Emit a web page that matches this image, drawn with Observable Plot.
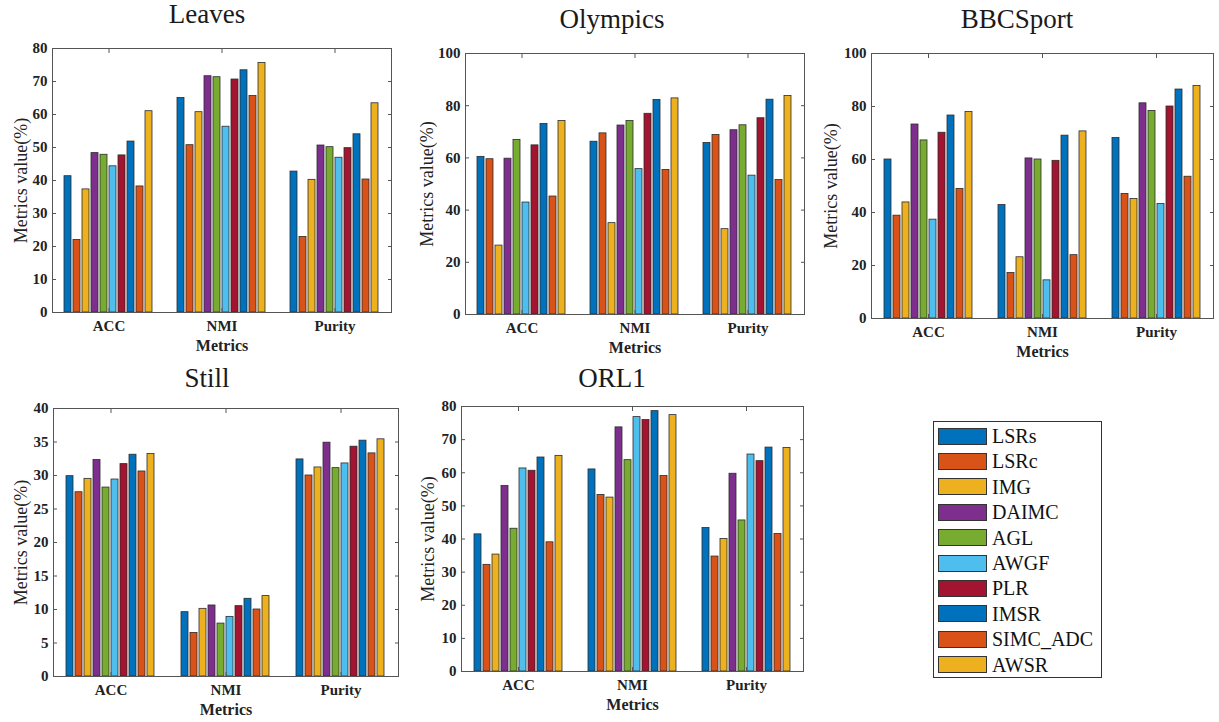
<!DOCTYPE html>
<html>
<head>
<meta charset="utf-8">
<script src="https://cdn.jsdelivr.net/npm/d3@7"></script>
<script src="https://cdn.jsdelivr.net/npm/@observablehq/plot@0.6"></script>
<style>
  body { margin: 0; background: #fff; }
  #wrap { position: relative; width: 1219px; height: 722px; overflow: hidden; font-family: "Liberation Serif", serif; }
  .title { position: absolute; font-family: "Liberation Serif", serif; font-weight: normal; font-size: 27px; color: #1a1a1a; white-space: nowrap; transform: translate(-50%, -50%); line-height: 1; }
  .panel { position: absolute; }
  .panel svg, .panel svg text { font-family: "Liberation Serif", serif !important; }
  .panel svg text { fill: #222; }
  .panel g[aria-label="y-axis tick label"] text, .panel g[aria-label="fx-axis tick label"] text { font-weight: bold; }
  .panel g[aria-label="y-axis label"] text { font-size: 18px; font-weight: normal; }
  .panel g[aria-label="fx-axis label"] text { font-size: 16px; font-weight: bold; }
  #legend { position: absolute; left: 933px; top: 421px; width: 169px; height: 257px; border: 1px solid #333; box-sizing: border-box; background: #fff; }
  .lrow { position: absolute; left: 4px; height: 18px; display: flex; align-items: center; }
  .sw { width: 49px; height: 17px; border: 1px solid #333; box-sizing: border-box; margin-right: 5px; }
  .lt { font-family: "Liberation Serif", serif; font-size: 20px; color: #111; line-height: 1; }
</style>
</head>
<body>
<div id="wrap"></div>
<script>
const methods = ["LSRs", "LSRc", "IMG", "DAIMC", "AGL", "AWGF", "PLR", "IMSR", "SIMC_ADC", "AWSR"];
const colors = ["#0072BD", "#D95319", "#EDB120", "#7E2F8E", "#77AC30", "#4DBEEE", "#A2142F", "#0072BD", "#D95319", "#EDB120"];
const metrics = ["ACC", "NMI", "Purity"];

const leavesACC = [41.3, 22.0, 37.3, 48.3, 47.8, 44.3, 47.6, 51.8, 38.2, 61.0];
const leavesNMI = [65.0, 50.7, 60.7, 71.6, 71.3, 56.3, 70.6, 73.4, 65.6, 75.6];
const leavesPurity = [42.7, 22.9, 40.2, 50.6, 50.1, 46.9, 49.8, 54.0, 40.3, 63.4];

const olympicsACC = [60.4, 59.5, 26.4, 59.7, 66.9, 42.9, 64.8, 73.0, 45.2, 74.1];
const olympicsNMI = [66.2, 69.4, 35.0, 72.4, 74.1, 55.7, 76.9, 82.2, 55.4, 82.8];
const olympicsPurity = [65.7, 68.8, 32.7, 70.6, 72.5, 53.2, 75.2, 82.3, 51.5, 83.7];

const bbcACC = [60.0, 38.8, 43.8, 73.2, 67.2, 37.3, 70.1, 76.6, 48.9, 77.9];
const bbcNMI = [42.8, 17.2, 23.1, 60.4, 60.0, 14.4, 59.5, 69.0, 23.9, 70.6];
const bbcPurity = [68.1, 47.0, 45.1, 81.2, 78.3, 43.2, 80.0, 86.4, 53.5, 87.7];

const stillACC = [29.9, 27.5, 29.5, 32.3, 28.2, 29.4, 31.7, 33.1, 30.6, 33.2];
const stillNMI = [9.6, 6.5, 10.1, 10.6, 7.9, 8.9, 10.5, 11.6, 10.0, 12.0];
const stillPurity = [32.4, 30.0, 31.2, 34.9, 31.1, 31.8, 34.3, 35.2, 33.3, 35.4];

const orlACC = [41.4, 32.2, 35.3, 56.0, 43.1, 61.3, 60.6, 64.6, 39.0, 65.1];
const orlNMI = [61.0, 53.3, 52.5, 73.7, 63.8, 76.8, 75.9, 78.6, 59.0, 77.4];
const orlPurity = [43.3, 34.7, 40.0, 59.7, 45.6, 65.5, 63.5, 67.6, 41.5, 67.5];

const ticks80 = [0, 10, 20, 30, 40, 50, 60, 70, 80];
const ticks100 = [0, 20, 40, 60, 80, 100];
const ticks40 = [0, 5, 10, 15, 20, 25, 30, 35, 40];

const titles = ["Leaves", "Olympics", "BBCSport", "Still", "ORL1"];

const panels = [
  {title: titles[0], values: [leavesACC, leavesNMI, leavesPurity], ymax: 80, ticks: ticks80,
   left: 0, top: 30, w: 405, h: 330, ml: 51, mr: 13, mt: 18, mb: 48, lo: 38, tx: 207, ty: 14},
  {title: titles[1], values: [olympicsACC, olympicsNMI, olympicsPurity], ymax: 100, ticks: ticks100,
   left: 405, top: 30, w: 410, h: 330, ml: 60, mr: 11, mt: 23, mb: 46, lo: 45, tx: 612, ty: 19},
  {title: titles[2], values: [bbcACC, bbcNMI, bbcPurity], ymax: 100, ticks: ticks100,
   left: 815, top: 30, w: 404, h: 330, ml: 55, mr: 6, mt: 23, mb: 42, lo: 47, tx: 1017, ty: 19},
  {title: titles[3], values: [stillACC, stillNMI, stillPurity], ymax: 40, ticks: ticks40,
   left: 0, top: 390, w: 405, h: 332, ml: 52, mr: 6, mt: 18, mb: 46, lo: 39, tx: 207, ty: 378},
  {title: titles[4], values: [orlACC, orlNMI, orlPurity], ymax: 80, ticks: ticks80,
   left: 405, top: 390, w: 410, h: 332, ml: 55, mr: 11, mt: 16, mb: 51, lo: 40, tx: 612, ty: 378}
];

const wrap = document.getElementById("wrap");
const blank = () => "";

for (const p of panels) {
  const data = [];
  metrics.forEach((m, mi) => methods.forEach((k, ki) => data.push({metric: m, method: k, value: p.values[mi][ki]})));

  const chart = Plot.plot({
    width: p.w,
    height: p.h,
    marginLeft: p.ml,
    marginRight: p.mr,
    marginTop: p.mt,
    marginBottom: p.mb,
    style: {fontFamily: "Liberation Serif, serif", fontSize: "15px", background: "transparent", overflow: "visible", color: "#222"},
    fx: {domain: metrics, paddingInner: 0, paddingOuter: 0},
    x: {domain: methods, paddingInner: 0.2, paddingOuter: 1.225, axis: null},
    y: {domain: [0, p.ymax]},
    color: {domain: methods, range: colors},
    marks: [
      Plot.barY(data, {fx: "metric", x: "method", y: "value", fill: "method", stroke: "#2b2b2b", strokeWidth: 0.8}),
      Plot.frame({facet: "super", stroke: "#555", strokeWidth: 1}),
      Plot.axisY({anchor: "left", ticks: p.ticks, tickSize: 0, tickPadding: 5, label: "Metrics value(%)", labelAnchor: "center", labelOffset: p.lo, labelArrow: "none"}),
      Plot.axisY({anchor: "left", ticks: p.ticks, tickSize: -4, tickFormat: blank, label: null, stroke: "#555"}),
      Plot.axisY({anchor: "right", ticks: p.ticks, tickSize: -4, tickFormat: blank, label: null, stroke: "#555"}),
      Plot.axisFx({anchor: "bottom", tickSize: 0, tickPadding: 8, label: "Metrics", labelAnchor: "center", labelOffset: 38, labelArrow: "none"}),
      Plot.axisFx({anchor: "bottom", tickSize: -4, tickFormat: blank, label: null, stroke: "#555"}),
      Plot.axisFx({anchor: "top", tickSize: -4, tickFormat: blank, label: null, stroke: "#555"})
    ]
  });

  const div = document.createElement("div");
  div.className = "panel";
  div.style.left = p.left + "px";
  div.style.top = p.top + "px";
  div.appendChild(chart);
  wrap.appendChild(div);

  const t = document.createElement("div");
  t.className = "title";
  t.textContent = p.title;
  t.style.left = p.tx + "px";
  t.style.top = p.ty + "px";
  wrap.appendChild(t);
}

const legend = document.createElement("div");
legend.id = "legend";
methods.forEach((m, i) => {
  const row = document.createElement("div");
  row.className = "lrow";
  row.style.top = (5 + i * 25.4) + "px";
  const sw = document.createElement("div");
  sw.className = "sw";
  sw.style.background = colors[i];
  const lt = document.createElement("span");
  lt.className = "lt";
  lt.textContent = m;
  row.appendChild(sw);
  row.appendChild(lt);
  legend.appendChild(row);
});
wrap.appendChild(legend);
</script>
</body>
</html>
